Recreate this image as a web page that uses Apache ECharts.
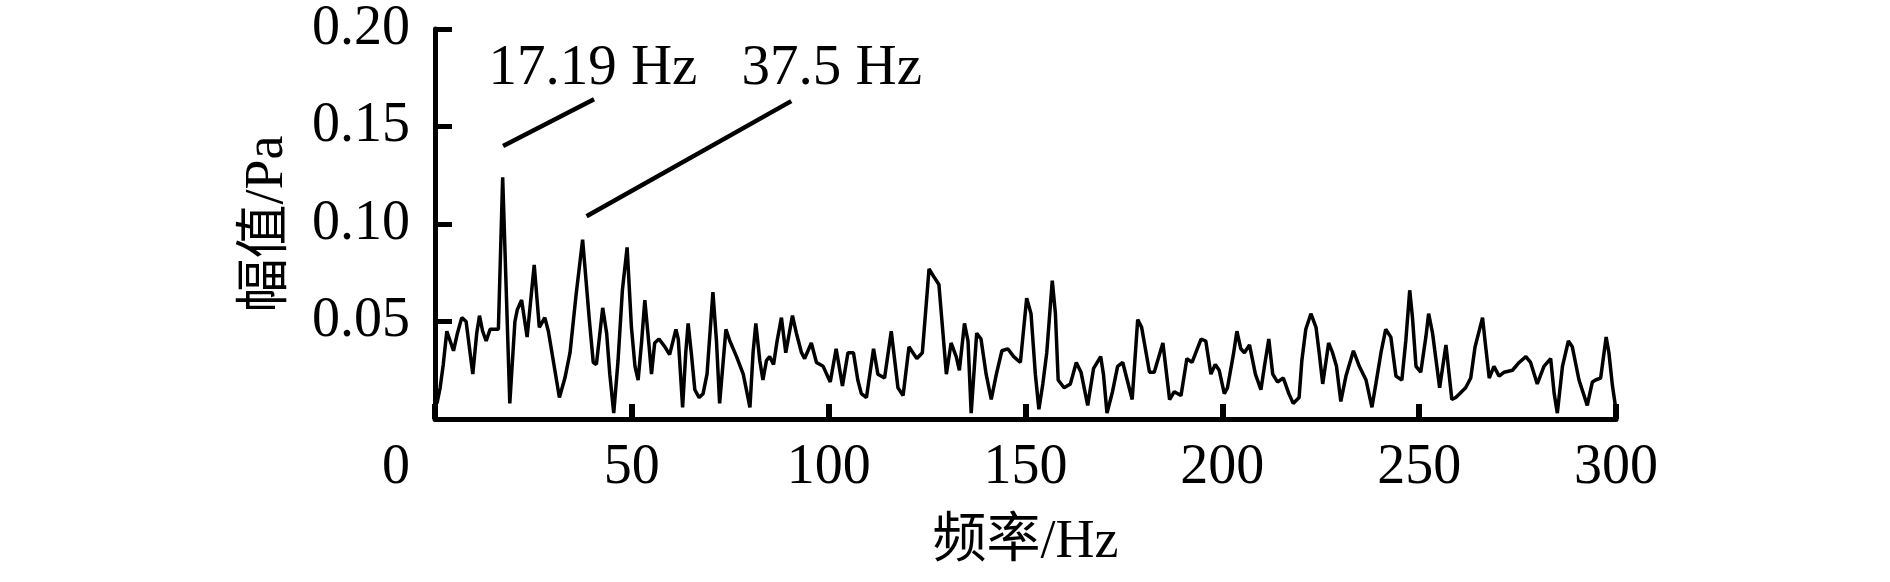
<!DOCTYPE html>
<html>
<head>
<meta charset="utf-8">
<script src="https://cdn.jsdelivr.net/npm/echarts@6/dist/echarts.min.js"></script>
<style>
html,body{margin:0;padding:0;background:#fff;}
#chart{width:1890px;height:582px;}
</style>
</head>
<body>
<div id="chart"></div>
<script>
// Frequency (Hz) of each vertex of the spectrum line
const freq = [0.5,1.3,2.1,3.0,4.7,5.7,6.8,7.9,9.6,10.6,11.3,12.1,13.0,14.0,16.1,17.19,19.0,20.3,20.9,22.0,23.4,25.2,26.5,27.9,28.8,31.6,33.0,34.3,35.8,37.5,39.2,40.2,41.0,42.6,43.6,44.4,45.4,46.5,47.6,48.8,49.9,50.8,51.6,52.5,53.3,54.4,55.0,55.8,56.9,58.4,59.6,61.2,61.8,62.9,63.7,64.3,65.1,66.0,67.1,68.1,69.1,70.6,71.5,72.3,73.9,74.9,76.6,78.3,80.0,80.8,81.5,82.5,83.3,84.2,85.0,86.0,86.9,88.0,89.1,90.8,91.8,93.1,93.9,95.6,96.9,98.6,100.4,101.9,103.5,104.9,106.3,107.4,108.3,109.6,111.4,112.5,114.2,115.9,117.6,118.9,120.4,121.4,122.4,123.8,125.5,126.7,128.0,129.9,131.1,132.4,133.2,134.5,135.4,136.2,137.6,138.7,140.0,141.3,142.6,144.0,145.5,147.0,148.7,150.3,151.4,152.5,153.4,154.4,155.4,156.8,157.6,158.3,159.8,161.4,162.9,164.1,165.8,167.3,169.1,169.8,170.7,172.1,173.4,174.7,177.1,178.5,179.5,181.5,182.7,184.9,186.6,187.8,189.5,191.0,192.3,194.6,195.8,197.1,198.2,199.2,200.5,201.3,202.8,203.7,204.7,205.6,206.9,208.4,209.8,210.7,211.8,212.8,214.0,215.5,216.9,218.0,219.5,220.2,221.2,222.5,223.8,224.6,225.5,227.0,228.0,229.0,230.1,231.4,233.3,234.8,236.5,238.0,239.0,240.3,241.5,242.8,244.1,245.6,246.6,247.6,248.3,249.2,250.4,251.7,252.4,253.4,255.2,256.8,258.3,259.3,261.8,263.1,264.2,266.1,266.9,267.8,269.0,270.3,271.6,273.7,275.4,277.1,278.3,280.0,281.7,283.4,284.3,285.1,286.4,287.9,288.9,290.6,292.7,294.0,294.8,296.1,297.5,298.2,299.1,299.9];
// Amplitude (Pa) at each vertex
const amp = [0.008,0.016,0.028,0.045,0.035,0.044,0.052,0.050,0.023,0.044,0.053,0.045,0.040,0.046,0.046,0.124,0.008,0.050,0.056,0.061,0.042,0.079,0.047,0.052,0.045,0.011,0.021,0.034,0.063,0.092,0.051,0.029,0.028,0.057,0.044,0.023,0.003,0.030,0.066,0.088,0.047,0.027,0.020,0.040,0.061,0.037,0.023,0.039,0.041,0.037,0.033,0.046,0.041,0.006,0.034,0.049,0.034,0.015,0.011,0.013,0.023,0.065,0.040,0.008,0.046,0.040,0.032,0.023,0.006,0.034,0.049,0.030,0.020,0.030,0.032,0.028,0.040,0.052,0.034,0.053,0.044,0.034,0.031,0.039,0.029,0.027,0.019,0.036,0.017,0.034,0.034,0.020,0.013,0.011,0.036,0.023,0.021,0.045,0.016,0.012,0.037,0.034,0.031,0.034,0.077,0.073,0.069,0.023,0.039,0.032,0.025,0.049,0.040,0.003,0.044,0.041,0.023,0.010,0.023,0.035,0.036,0.032,0.029,0.062,0.054,0.023,0.005,0.018,0.034,0.071,0.054,0.020,0.016,0.018,0.029,0.024,0.007,0.026,0.032,0.023,0.003,0.014,0.027,0.029,0.010,0.051,0.047,0.024,0.024,0.039,0.010,0.014,0.012,0.031,0.029,0.041,0.040,0.023,0.028,0.025,0.013,0.016,0.033,0.045,0.036,0.034,0.038,0.023,0.015,0.027,0.041,0.023,0.019,0.021,0.013,0.008,0.011,0.030,0.046,0.054,0.047,0.034,0.018,0.039,0.034,0.027,0.009,0.022,0.035,0.027,0.020,0.006,0.018,0.034,0.046,0.042,0.022,0.020,0.040,0.066,0.052,0.027,0.024,0.042,0.054,0.044,0.016,0.038,0.010,0.011,0.016,0.021,0.037,0.052,0.037,0.021,0.027,0.022,0.024,0.025,0.029,0.032,0.029,0.018,0.027,0.031,0.013,0.003,0.027,0.040,0.037,0.020,0.007,0.019,0.020,0.021,0.042,0.034,0.017,0.006];

const xTicks = [0, 50, 100, 150, 200, 250, 300];
const yTicks = [0, 0.05, 0.10, 0.15, 0.20];

// Peak annotations: text, text anchor (Hz, Pa), leader line start/end (Hz, Pa)
const annoText = ['17.19 Hz', '37.5 Hz'];
const annoTextPos = [[40.1, 0.1796], [100.8, 0.1796]];
const annoLineStart = [[17.3, 0.140], [38.5, 0.104]];
const annoLineEnd = [[40.4, 0.164], [90.5, 0.163]];

const serif = '"Liberation Serif", "Times New Roman", "Noto Sans CJK SC", serif';
const black = '#000';

const chart = echarts.init(document.getElementById('chart'));
const lineData = freq.map((f, i) => [f, amp[i]]);

chart.setOption({
  animation: false,
  backgroundColor: '#fff',
  grid: { left: 435, right: 274, top: 29, bottom: 163, containLabel: false },
  xAxis: {
    type: 'value',
    min: xTicks[0], max: xTicks[xTicks.length - 1], interval: 50,
    name: '频率/Hz',
    nameLocation: 'middle',
    nameGap: 97,
    nameTextStyle: { fontFamily: serif, fontSize: 54, color: black },
    axisLine: { show: true, lineStyle: { color: black, width: 5 } },
    axisTick: { show: true, inside: true, length: 15, lineStyle: { color: black, width: 6 } },
    splitLine: { show: false },
    axisLabel: {
      margin: 21,
      fontFamily: serif, fontSize: 56, color: black,
      formatter: v => v === 0 ? '{z|0}' : String(v),
      rich: { z: { fontFamily: serif, fontSize: 56, color: black, padding: [0, 78, 0, 0] } }
    }
  },
  yAxis: {
    type: 'value',
    min: yTicks[0], max: yTicks[yTicks.length - 1], interval: 0.05,
    name: '幅值/Pa',
    nameLocation: 'middle',
    nameGap: 140,
    nameRotate: 90,
    nameTextStyle: { fontFamily: serif, fontSize: 54, color: black },
    axisLine: { show: true, lineStyle: { color: black, width: 5 } },
    axisTick: { show: true, inside: true, length: 17, lineStyle: { color: black, width: 5 } },
    splitLine: { show: false },
    axisLabel: {
      margin: 25,
      fontFamily: serif, fontSize: 56, color: black,
      formatter: v => v === 0 ? '' : v.toFixed(2)
    }
  },
  series: [
    {
      type: 'line',
      data: lineData,
      showSymbol: false,
      symbol: 'none',
      lineStyle: { color: black, width: 3.5 },
      markLine: {
        silent: true,
        symbol: ['none', 'none'],
        label: { show: false },
        lineStyle: { color: black, width: 4.5, type: 'solid' },
        data: annoLineStart.map((s, i) => [{ coord: s }, { coord: annoLineEnd[i] }])
      },
      markPoint: {
        silent: true,
        symbol: 'circle',
        symbolSize: 0,
        itemStyle: { color: 'transparent', opacity: 1 },
        label: {
          show: true,
          position: 'inside',
          align: 'center',
          verticalAlign: 'middle',
          formatter: p => p.name,
          fontFamily: serif, fontSize: 57, color: black, opacity: 1
        },
        data: annoTextPos.map((p, i) => ({ name: annoText[i], coord: p }))
      }
    }
  ]
});
</script>
</body>
</html>
